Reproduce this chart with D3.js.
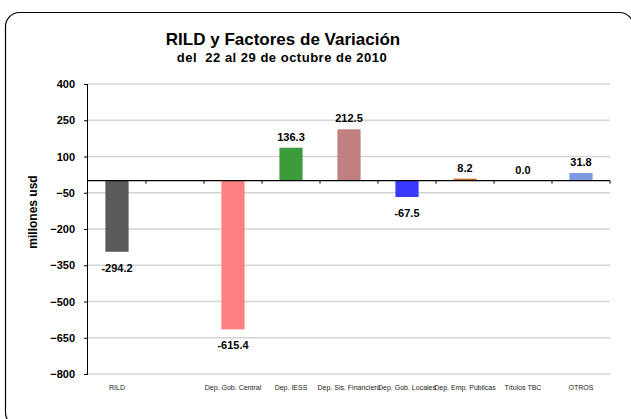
<!DOCTYPE html>
<html>
<head>
<meta charset="utf-8">
<script src="https://cdn.jsdelivr.net/npm/d3@7"></script>
<style>
  body { margin: 0; background: #fff; }
  svg text { font-family: "Liberation Sans", Arial, sans-serif; }
</style>
</head>
<body>
<div id="chart"></div>
<script>
// categories (second slot is empty in the original)
var categories = ["RILD", "", "Dep. Gob. Central", "Dep. IESS", "Dep. Sis. Financiero",
                  "Dep. Gob. Locales", "Dep. Emp. Públicas", "Títulos TBC", "OTROS"];
var values = [-294.2, null, -615.4, 136.3, 212.5, -67.5, 8.2, 0.0, 31.8];
var barColors = ["#5a5a5a", null, "#ff8080", "#3c9c3c", "#c08080", "#3a3aff", "#d0661e", "#999999", "#7f9ce0"];
var yTicks = [400, 250, 100, -50, -200, -350, -500, -650, -800];

var svgWidth = 631, svgHeight = 419;
var margin = { top: 84, bottom: 45, left: 88, right: 21 };
var chartWidth = svgWidth - margin.left - margin.right;
var chartHeight = svgHeight - margin.top - margin.bottom;

var svg = d3.select("#chart").append("svg")
    .attr("width", svgWidth)
    .attr("height", svgHeight);

// rounded frame
svg.append("rect")
    .attr("x", 5.5).attr("y", 12.5)
    .attr("width", 628).attr("height", 414)
    .attr("rx", 14)
    .attr("fill", "none")
    .attr("stroke", "#000")
    .attr("stroke-width", 1.2);

// titles
svg.append("text")
    .attr("x", 283).attr("y", 45)
    .attr("text-anchor", "middle")
    .style("font-size", "17px").style("font-weight", "bold")
    .text("RILD y Factores de Variación");
svg.append("text")
    .attr("x", 282).attr("y", 62)
    .attr("text-anchor", "middle")
    .style("font-size", "13px").style("font-weight", "bold")
    .style("letter-spacing", "0.5px")
    .style("white-space", "pre")
    .text("del  22 al 29 de octubre de 2010");

var chartGroup = svg.append("g")
    .attr("transform", `translate(${margin.left}, ${margin.top})`);

var xScale = d3.scaleBand()
    .domain(d3.range(categories.length))
    .range([0, chartWidth])
    .paddingInner(0.6).paddingOuter(0.3);

var yScale = d3.scaleLinear()
    .domain([-800, 400])
    .range([chartHeight, 0]);

// gridlines
chartGroup.append("g")
    .selectAll("line")
    .data(yTicks)
    .enter().append("line")
    .attr("x1", 0).attr("x2", chartWidth)
    .attr("y1", d => yScale(d)).attr("y2", d => yScale(d))
    .attr("stroke", "#d4d4d4")
    .attr("stroke-width", 1.5);

// left axis
var leftAxis = d3.axisLeft(yScale).tickValues(yTicks).tickSize(4).tickPadding(9);
var yAxisG = chartGroup.append("g").call(leftAxis);
yAxisG.select(".domain").attr("stroke", "#000").attr("d", `M-0.5,${yScale(400)}V${yScale(-800)}`);
yAxisG.selectAll(".tick line").attr("stroke", "#000");
yAxisG.selectAll("text")
    .style("font-size", "11px").style("font-weight", "bold").attr("fill", "#000");

// bars
var idx = d3.range(categories.length).filter(i => values[i] !== null);
chartGroup.selectAll(".bar")
    .data(idx)
    .enter().append("rect")
    .attr("class", "bar")
    .attr("x", i => xScale(i))
    .attr("width", xScale.bandwidth())
    .attr("y", i => yScale(Math.max(0, values[i])))
    .attr("height", i => Math.abs(yScale(values[i]) - yScale(0)))
    .attr("fill", i => barColors[i]);

// zero line with category ticks
var bandStep = xScale.step();
var zeroG = chartGroup.append("g").attr("transform", `translate(0, ${yScale(0)})`);
zeroG.append("line")
    .attr("x1", 0).attr("x2", chartWidth)
    .attr("stroke", "#000").attr("stroke-width", 1.2);
zeroG.selectAll(".ztick")
    .data(d3.range(1, categories.length + 1))
    .enter().append("line")
    .attr("x1", d => d * bandStep).attr("x2", d => d * bandStep)
    .attr("y1", 0).attr("y2", 3)
    .attr("stroke", "#000");

// value labels
chartGroup.selectAll(".val")
    .data(idx)
    .enter().append("text")
    .attr("x", i => xScale(i) + xScale.bandwidth() / 2)
    .attr("y", i => values[i] < 0 ? yScale(values[i]) + 20 : yScale(values[i]) - 7)
    .attr("text-anchor", "middle")
    .style("font-size", "11px").style("font-weight", "bold")
    .text(i => values[i].toFixed(1));

// category labels along the bottom
chartGroup.selectAll(".cat")
    .data(d3.range(categories.length))
    .enter().append("text")
    .attr("x", i => xScale(i) + xScale.bandwidth() / 2)
    .attr("y", chartHeight + 16)
    .attr("text-anchor", "middle")
    .attr("fill", "#222")
    .style("font-size", "7px")
    .text(i => categories[i]);

// y axis label
svg.append("text")
    .attr("transform", "translate(37, 212) rotate(-90)")
    .attr("text-anchor", "middle")
    .style("font-size", "12px").style("font-weight", "bold")
    .text("millones usd");
</script>
</body>
</html>
